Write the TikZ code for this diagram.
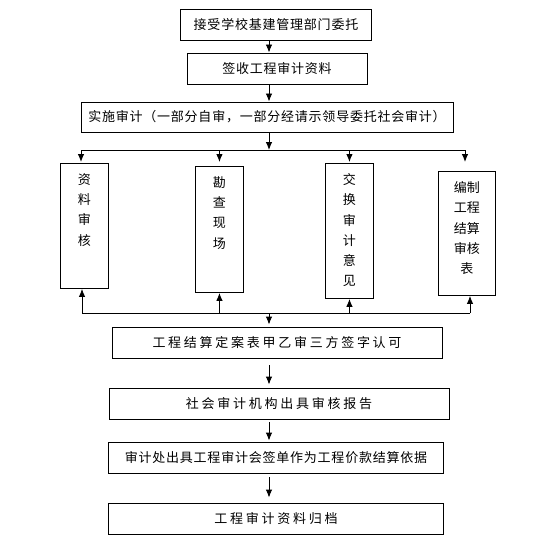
\documentclass[tikz,border=0pt]{standalone}
\usepackage{fontspec}
\setmainfont{Noto Sans CJK SC}
\newfontfamily\cjknarrow[LetterSpace=6]{Noto Sans CJK SC}
\newfontfamily\cjkwide[LetterSpace=21]{Noto Sans CJK SC}
\usetikzlibrary{positioning,arrows.meta}
\tikzset{>={Latex[length=8pt,width=6.5pt]}}
\newcommand{\coltext}[2]{\parbox[c][#1][t]{40pt}{\centering\fontsize{13}{20.3}\selectfont\vspace*{10pt}#2}}

\begin{document}
\begin{tikzpicture}[x=1pt, y=-1pt, line width=0.9pt]
    \tikzset{%
      step box/.style={draw, inner sep=0pt, minimum height=31pt, font=\fontsize{13}{15}\cjknarrow},
      wide box/.style={step box, font=\fontsize{13}{15}\cjkwide},
      col/.style={draw, inner sep=0pt, anchor=north west}
      }
     \useasboundingbox (0,0) rectangle (537,559);

     \node [step box, minimum width=191pt] (Accept) at (276,24.5) {接受学校基建管理部门委托};
     \node [step box, minimum width=180pt] (Sign) at (277,68.5) {签收工程审计资料};
     \node [step box, minimum width=372pt, minimum height=30pt] (Audit) at (267,117) {实施审计（一部分自审，一部分经请示领导委托社会审计）};

     \node [col, minimum width=48pt] (Data) at (60,163) {\coltext{125pt}{资\\料\\审\\核}};
     \node [col, minimum width=48pt] (Site) at (195,166) {\coltext{126pt}{勘\\查\\现\\场}};
     \node [col, minimum width=48pt] (Opinion) at (325,163) {\coltext{135pt}{交\\换\\审\\计\\意\\见}};
     \node [col, minimum width=57pt] (Sheet) at (438,171) {\coltext{124pt}{编制\\工程\\结算\\审核\\表}};

     \node [wide box, minimum width=330pt] (Confirm) at (277,342.5) {工程结算定案表甲乙审三方签字认可};
     \node [wide box, minimum width=340pt] (Report) at (279,403.5) {社会审计机构出具审核报告};
     \node [step box, minimum width=335pt] (Basis) at (276,457.5) {审计处出具工程审计会签单作为工程价款结算依据};
     \node [wide box, minimum width=335pt] (Archive) at (276,518.5) {工程审计资料归档};

     \coordinate (spine) at (269,0);
     \coordinate (splitL) at (81,150);
     \coordinate (splitR) at (465,150);
     \coordinate (mergeL) at (82,313);
     \coordinate (mergeR) at (470,313);

     \draw [->] (Accept.south -| spine) -- (Sign.north -| spine);
     \draw [->] (Sign.south -| spine) -- (Audit.north -| spine);
     \draw [->] (Audit.south -| spine) -- (splitL -| spine);

     \draw (splitL) -- (splitR);
     \draw [->] (splitL) -- ++(0,12);
     \draw [->] (Site.north |- splitL) -- ++(0,12);
     \draw [->] (Opinion.north |- splitL) -- ++(0,12);
     \draw [->] (splitR) -- ++(0,12);

     \draw (mergeL) -- (mergeR);
     \draw [->] (mergeL) -- (Data.south -| mergeL);
     \draw [->] (Site.south |- mergeL) -- (Site.south);
     \draw [->] (Opinion.south |- mergeL) -- (Opinion.south);
     \draw [->] (mergeR) -- (Sheet.south -| mergeR);

     \draw [->, shorten >=2pt] (mergeL -| spine) -- (Confirm.north -| spine);
     \draw [->, shorten <=7pt, shorten >=3pt] (Confirm.south -| spine) -- (Report.north -| spine);
     \draw [->, shorten <=3pt, shorten >=1pt] (Report.south -| spine) -- (Basis.north -| spine);
     \draw [->, shorten <=4pt, shorten >=5pt] (Basis.south -| spine) -- (Archive.north -| spine);

  \end{tikzpicture}
\end{document}
